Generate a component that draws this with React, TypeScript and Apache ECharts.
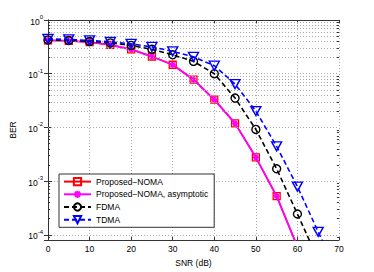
import React, { useEffect, useRef } from "react";
import * as echarts from "echarts";

const snr = [0, 5, 10, 15, 20, 25, 30, 35, 40, 45, 50, 55, 60, 65, 70];
const proposedNoma = [0.417, 0.41, 0.386, 0.344, 0.284, 0.209, 0.147, 0.0774, 0.033, 0.0119, 0.00278, 0.000527, 0.00006];
const proposedAsym = [0.417, 0.41, 0.386, 0.344, 0.284, 0.209, 0.147, 0.0774, 0.033, 0.0119, 0.00278, 0.000527, 0.00006];
const fdma = [0.426, 0.417, 0.4, 0.375, 0.337, 0.284, 0.225, 0.17, 0.1, 0.0352, 0.00918, 0.0017, 0.000245, 0.0000344];
const tdma = [0.445, 0.435, 0.417, 0.392, 0.36, 0.316, 0.261, 0.206, 0.141, 0.064, 0.0202, 0.00445, 0.00079, 0.000114, 0.0000167];
const xTicks = [0, 10, 20, 30, 40, 50, 60, 70];
const yMin = 0.00008;
const yMax = 1;

const FONT = "Liberation Sans, Arial, Helvetica, sans-serif";

const pairs = (ys: number[]) => ys.map((y, i) => [snr[i], y]);

export default function App() {
  const ref = useRef<HTMLDivElement>(null);
  useEffect(() => {
    if (!ref.current) return;
    const chart = echarts.init(ref.current, undefined, { renderer: "svg" });

    const minorVals: number[] = [];
    for (let d = -5; d <= -1; d++) {
      for (let k = 2; k <= 9; k++) {
        const v = k * Math.pow(10, d);
        if (v >= yMin && v <= yMax) minorVals.push(v);
      }
    }
    const majorVals = [1e-4, 1e-3, 1e-2, 1e-1, 1];

    const tickSeg = (v: number, len: number) => [
      [{ xAxis: 0, yAxis: v }, { xAxis: len, yAxis: v }],
      [{ xAxis: 70 - len, yAxis: v }, { xAxis: 70, yAxis: v }],
    ];

    const labelFmt = (v: number) => {
      const e = Math.round(Math.log10(v));
      return "{b|10}{s|" + e + "}";
    };

    const axisColor = "#333";

    chart.setOption({
      animation: false,
      textStyle: { fontFamily: FONT },
      grid: { left: 48, right: 35, top: 20, bottom: 30, containLabel: false },
      xAxis: [
        {
          type: "value",
          min: 0,
          max: 70,
          interval: 10,
          name: "SNR (dB)",
          nameLocation: "middle",
          nameGap: 17,
          nameTextStyle: { fontSize: 8.5, color: "#000", fontFamily: FONT },
          axisLine: { show: true, lineStyle: { color: axisColor, width: 1 } },
          axisTick: { show: true, inside: true, length: 3, lineStyle: { color: axisColor } },
          axisLabel: { fontSize: 8.5, color: "#000", margin: 4, fontFamily: FONT },
          splitLine: { show: true, lineStyle: { color: "#aaa", type: [1, 2], width: 1 } },
          customValues: xTicks,
        },
        {
          type: "value",
          position: "top",
          min: 0,
          max: 70,
          interval: 10,
          axisLine: { show: true, lineStyle: { color: axisColor, width: 1 } },
          axisTick: { show: true, inside: true, length: 3, lineStyle: { color: axisColor } },
          axisLabel: { show: false },
          splitLine: { show: false },
        },
      ],
      yAxis: [
        {
          type: "log",
          min: yMin,
          max: yMax,
          name: "BER",
          nameLocation: "middle",
          nameGap: 26,
          nameRotate: 90,
          nameTextStyle: { fontSize: 8.5, color: "#000", fontFamily: FONT },
          axisLine: { show: true, lineStyle: { color: axisColor, width: 1 } },
          axisTick: { show: true, inside: true, length: 4, lineStyle: { color: axisColor } },
          axisLabel: {
            color: "#000",
            margin: 5,
            showMinLabel: false,
            formatter: labelFmt,
            rich: {
              b: { fontSize: 8.5, fontFamily: FONT, color: "#000", verticalAlign: "bottom", lineHeight: 12 },
              s: { fontSize: 6, fontFamily: FONT, color: "#000", verticalAlign: "top", lineHeight: 12 },
            },
          },
          splitLine: { show: true, lineStyle: { color: "#aaa", type: [1, 2], width: 1 } },
        },
        {
          type: "log",
          position: "right",
          min: yMin,
          max: yMax,
          axisLine: { show: true, lineStyle: { color: axisColor, width: 1 } },
          axisTick: { show: true, inside: true, length: 4, lineStyle: { color: axisColor } },
          axisLabel: { show: false },
          splitLine: { show: false },
        },
      ],
      legend: {
        orient: "vertical",
        left: 59,
        top: 174,
        backgroundColor: "#fff",
        borderColor: axisColor,
        borderWidth: 1,
        borderRadius: 0,
        padding: [3, 6, 3, 4],
        itemGap: 3.5,
        itemWidth: 27,
        itemHeight: 9,
        textStyle: { fontSize: 8.5, color: "#000", fontFamily: FONT, padding: [0, 0, 0, 0] },
        data: ["Proposed−NOMA", "Proposed−NOMA, asymptotic", "FDMA", "TDMA"],
      },
      series: [
        {
          name: "grid-minor",
          type: "line",
          data: [],
          z: 1,
          silent: true,
          markLine: {
            silent: true,
            symbol: ["none", "none"],
            label: { show: false },
            animation: false,
            lineStyle: { color: "#aaa", type: [1, 2], width: 1 },
            data: minorVals.map((v) => ({ yAxis: v })),
          },
        },
        {
          name: "ticks-minor",
          type: "line",
          data: [],
          z: 1,
          silent: true,
          markLine: {
            silent: true,
            symbol: ["none", "none"],
            label: { show: false },
            animation: false,
            lineStyle: { color: axisColor, type: "solid", width: 1 },
            data: minorVals.flatMap((v) => tickSeg(v, 0.5)),
          },
        },
        {
          name: "Proposed−NOMA",
          type: "line",
          data: pairs(proposedNoma),
          z: 3,
          clip: true,
          symbol: "rect",
          symbolSize: 7,
          showAllSymbol: true,
          lineStyle: { color: "#ff0000", width: 1.6 },
          itemStyle: { color: "rgba(0,0,0,0)", borderColor: "#ff0000", borderWidth: 1.3 },
        },
        {
          name: "Proposed−NOMA, asymptotic",
          type: "line",
          data: pairs(proposedAsym),
          z: 4,
          clip: true,
          symbol: "path://M0,-1L0,1M-1,0L1,0M-0.7,-0.7L0.7,0.7M-0.7,0.7L0.7,-0.7",
          symbolSize: 6,
          showAllSymbol: true,
          lineStyle: { color: "#ff00ff", width: 1.8 },
          itemStyle: { color: "#ff00ff", borderColor: "#ff00ff", borderWidth: 1.6 },
        },
        {
          name: "FDMA",
          type: "line",
          data: pairs(fdma),
          z: 5,
          clip: true,
          symbol: "circle",
          symbolSize: 8,
          showAllSymbol: true,
          lineStyle: { color: "#000", width: 1.6, type: [5, 3] },
          itemStyle: { color: "rgba(0,0,0,0)", borderColor: "#000", borderWidth: 1.4 },
        },
        {
          name: "TDMA",
          type: "line",
          data: pairs(tdma),
          z: 6,
          clip: true,
          symbol: "triangle",
          symbolRotate: 180,
          symbolSize: [10, 9],
          showAllSymbol: true,
          lineStyle: { color: "#0000ff", width: 1.6, type: [5, 3] },
          itemStyle: { color: "rgba(0,0,0,0)", borderColor: "#0000ff", borderWidth: 1.4 },
        },
      ],
    });
    return () => chart.dispose();
  }, []);
  return (
    <div
      ref={ref}
      style={{ position: "absolute", left: 0, top: 0, width: 374, height: 272, background: "#fff" }}
    />
  );
}
